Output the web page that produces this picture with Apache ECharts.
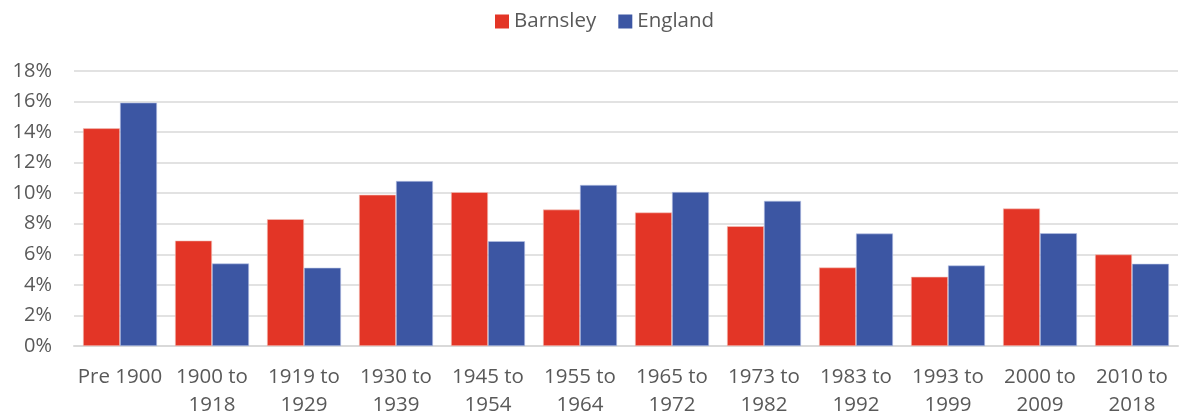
<!DOCTYPE html>
<html>
<head>
<meta charset="utf-8">
<script src="https://cdn.jsdelivr.net/npm/echarts@6/dist/echarts.min.js"></script>
<style>html,body{margin:0;padding:0;background:#fff}#c{width:1179px;height:419px}</style>
</head>
<body>
<div id="c"></div>
<script>
const categories = ['Pre 1900','1900 to\n1918','1919 to\n1929','1930 to\n1939','1945 to\n1954','1955 to\n1964','1965 to\n1972','1973 to\n1982','1983 to\n1992','1993 to\n1999','2000 to\n2009','2010 to\n2018'];
const barnsley = [14.25, 6.9, 8.3, 9.9, 10.07, 8.93, 8.74, 7.84, 5.14, 4.53, 9.0, 5.99];
const england = [15.93, 5.4, 5.12, 10.8, 6.86, 10.54, 10.08, 9.5, 7.36, 5.27, 7.38, 5.38];
const yTicks = [0, 2, 4, 6, 8, 10, 12, 14, 16, 18];

const FONT = '"Open Sans", "Liberation Sans", Arial, sans-serif';
const TXT = '#595959';
const chart = echarts.init(document.getElementById('c'));
chart.setOption({
  animation: false,
  textStyle: { fontFamily: FONT },
  legend: {
    top: 6, left: 490,
    itemWidth: 14, itemHeight: 14, itemGap: 22,
    icon: 'rect',
    itemStyle: { borderWidth: 0 },
    textStyle: { color: TXT, fontSize: 20.5, fontFamily: FONT },
    data: ['Barnsley', 'England']
  },
  grid: { left: 74, right: 1, top: 71, bottom: 73, containLabel: false },
  xAxis: {
    type: 'category',
    data: categories,
    axisLine: { lineStyle: { color: '#d9d9d9', width: 2 } },
    axisTick: { show: false },
    axisLabel: { interval: 0, color: TXT, fontSize: 20.5, lineHeight: 28, margin: 17, fontFamily: FONT }
  },
  yAxis: {
    type: 'value',
    min: yTicks[0], max: yTicks[yTicks.length - 1], interval: 2,
    axisLine: { show: false },
    axisTick: { show: false },
    splitLine: { lineStyle: { color: '#d9d9d9', width: 1.5 } },
    axisLabel: { color: TXT, fontSize: 20, margin: 22, formatter: v => v + '%', fontFamily: FONT }
  },
  series: [
    { name: 'Barnsley', type: 'bar', data: barnsley, barGap: '0%', barCategoryGap: '19.6%',
      itemStyle: { color: '#E33526', borderColor: '#f4c7c0', borderWidth: 0.6 } },
    { name: 'England', type: 'bar', data: england, barGap: '0%', barCategoryGap: '19.6%',
      itemStyle: { color: '#3C56A3', borderColor: '#b9c4e6', borderWidth: 0.6 } }
  ]
});
</script>
</body>
</html>
